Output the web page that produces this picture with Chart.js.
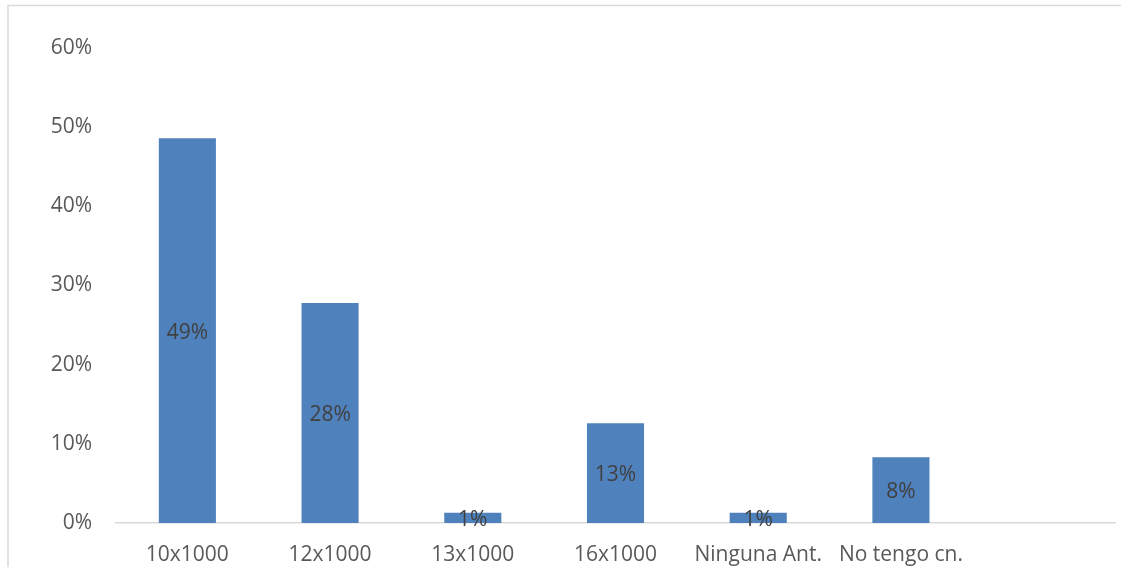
<!DOCTYPE html>
<html>
<head>
<meta charset="utf-8">
<script src="https://cdn.jsdelivr.net/npm/chart.js@4"></script>
<style>
  html, body { margin: 0; padding: 0; background: #ffffff; }
  #wrap { position: relative; width: 1121px; height: 567px; }
</style>
</head>
<body>
<div id="wrap"><canvas id="chart" width="1121" height="567"></canvas></div>
<script>
// Respuestas por opción (fracción del total)
const categories = ['10x1000', '12x1000', '13x1000', '16x1000', 'Ninguna Ant.', 'No tengo cn.', ''];
const shares = [0.486, 0.278, 0.013, 0.126, 0.013, 0.083, null];
const yTicks = [0, 0.1, 0.2, 0.3, 0.4, 0.5, 0.6];

const FONT = '"Open Sans", "DejaVu Sans", sans-serif';
const pct = v => Math.round(v * 100) + '%';

// Light frame along the top and left edges of the canvas
const framePlugin = {
  id: 'frame',
  beforeDraw(chart) {
    const ctx = chart.ctx;
    ctx.save();
    ctx.strokeStyle = '#d9d9d9';
    ctx.lineWidth = 1.5;
    ctx.beginPath();
    ctx.moveTo(8, chart.height);
    ctx.lineTo(8, 5.5);
    ctx.lineTo(chart.width, 5.5);
    ctx.stroke();
    ctx.restore();
  }
};

// Value labels centred inside each bar
const barLabels = {
  id: 'barLabels',
  afterDatasetsDraw(chart) {
    const ctx = chart.ctx;
    const ds = chart.data.datasets[0];
    const meta = chart.getDatasetMeta(0);
    ctx.save();
    ctx.font = '21px ' + FONT;
    ctx.fillStyle = '#404040';
    ctx.textAlign = 'center';
    ctx.textBaseline = 'middle';
    meta.data.forEach((bar, i) => {
      const v = ds.data[i];
      if (v === null || v === undefined) return;
      const p = bar.getProps(['x', 'y', 'base'], true);
      ctx.fillText(pct(v), p.x, (p.y + p.base) / 2 + 2);
    });
    ctx.restore();
  }
};

new Chart(document.getElementById('chart'), {
  type: 'bar',
  data: {
    labels: categories,
    datasets: [{
      data: shares,
      backgroundColor: '#4f81bd',
      borderWidth: 0,
      categoryPercentage: 1,
      barPercentage: 0.4
    }]
  },
  options: {
    responsive: false,
    animation: false,
    layout: { padding: { top: 48, right: 6, bottom: 0, left: 0 } },
    plugins: { legend: { display: false }, tooltip: { enabled: false } },
    scales: {
      x: {
        grid: { display: false, drawTicks: false },
        border: { display: true, color: '#d9d9d9', width: 1.5 },
        ticks: { color: '#595959', font: { family: FONT, size: 21 }, padding: 19, maxRotation: 0, autoSkip: false },
        afterFit(scale) { scale.height = 44; }
      },
      y: {
        min: 0,
        max: 0.6,
        grid: { display: false, drawTicks: false },
        border: { display: false },
        afterBuildTicks(scale) { scale.ticks = yTicks.map(v => ({ value: v })); },
        ticks: { color: '#595959', font: { family: FONT, size: 21 }, padding: 24, callback: v => pct(v) },
        afterFit(scale) { scale.width = 116; }
      }
    }
  },
  plugins: [framePlugin, barLabels]
});
</script>
</body>
</html>
